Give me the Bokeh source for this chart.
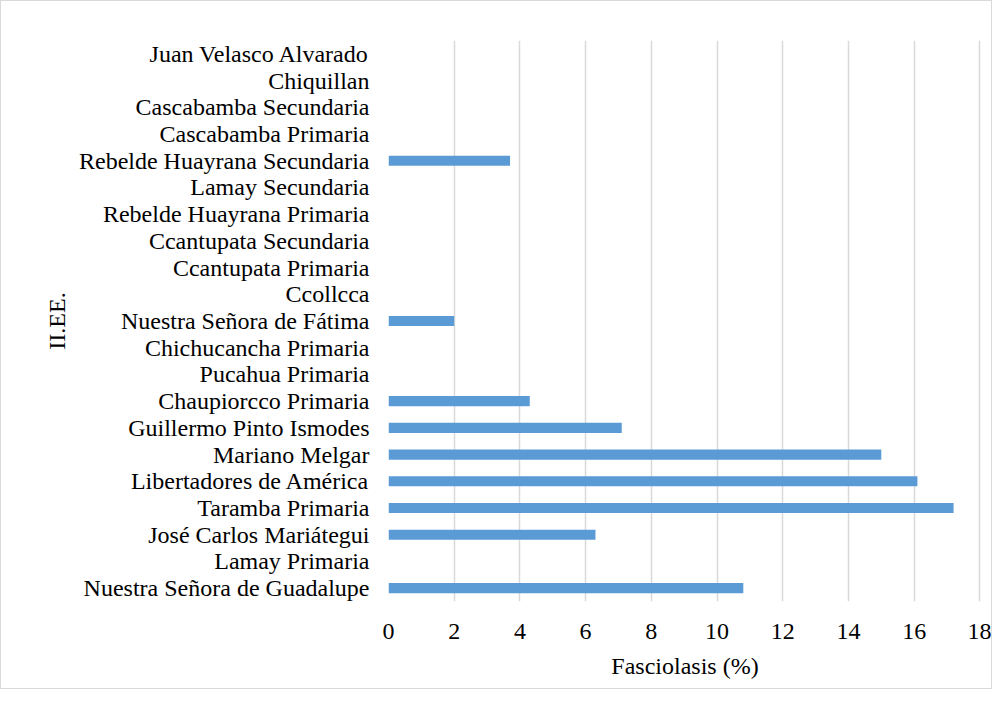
from bokeh.plotting import figure
from bokeh.models import FactorRange, Range1d, FixedTicker
from bokeh.embed import file_html
from bokeh.resources import INLINE

# Categories listed bottom to top
schools = [
    "Nuestra Señora de Guadalupe",
    "Lamay Primaria",
    "José Carlos Mariátegui",
    "Taramba Primaria",
    "Libertadores de América",
    "Mariano Melgar",
    "Guillermo Pinto Ismodes",
    "Chaupiorcco Primaria",
    "Pucahua Primaria",
    "Chichucancha Primaria",
    "Nuestra Señora de Fátima",
    "Ccollcca",
    "Ccantupata Primaria",
    "Ccantupata Secundaria",
    "Rebelde Huayrana Primaria",
    "Lamay Secundaria",
    "Rebelde Huayrana Secundaria",
    "Cascabamba Primaria",
    "Cascabamba Secundaria",
    "Chiquillan",
    "Juan Velasco Alvarado",
]
fasciolasis = [10.8, 0, 6.3, 17.2, 16.1, 15.0, 7.1, 4.3, 0, 0, 2.0, 0, 0, 0, 0, 0, 3.7, 0, 0, 0, 0]
x_ticks = [0, 2, 4, 6, 8, 10, 12, 14, 16, 18]

FONT = "Liberation Serif"

p = figure(
    width=992, height=689,
    y_range=FactorRange(*schools),
    x_range=Range1d(0, 18.05),
    output_backend="svg", toolbar_location=None,
    min_border_left=387, min_border_right=12,
    min_border_top=39, min_border_bottom=89,
)
p.styles = {"border": "1px solid #d9d9d9"}
p.outline_line_color = None

p.hbar(y=schools, right=fasciolasis, left=0, height=0.38, color="#5B9BD5",
       line_color=None)

p.xaxis.ticker = FixedTicker(ticks=x_ticks)
p.xgrid.ticker = FixedTicker(ticks=x_ticks)
p.xgrid.grid_line_color = "#d9d9d9"
p.xgrid.grid_line_width = 1.5
p.ygrid.grid_line_color = None

for ax in (p.xaxis, p.yaxis):
    ax.axis_line_color = None
    ax.major_tick_line_color = None
    ax.minor_tick_line_color = None
    ax.major_label_text_font = FONT
    ax.major_label_text_font_size = "24px"
    ax.major_label_text_color = "#000000"
    ax.axis_label_text_font = FONT
    ax.axis_label_text_font_size = "24px"
    ax.axis_label_text_font_style = "normal"
    ax.axis_label_text_color = "#000000"

p.xaxis.axis_label = "Fasciolasis (%)"
p.yaxis.axis_label = "II.EE."
p.xaxis.major_label_standoff = 16
p.xaxis.axis_label_standoff = 11
p.yaxis.major_label_standoff = 13
p.yaxis.axis_label_standoff = 6

open("out.html", "w").write(file_html(p, INLINE))
